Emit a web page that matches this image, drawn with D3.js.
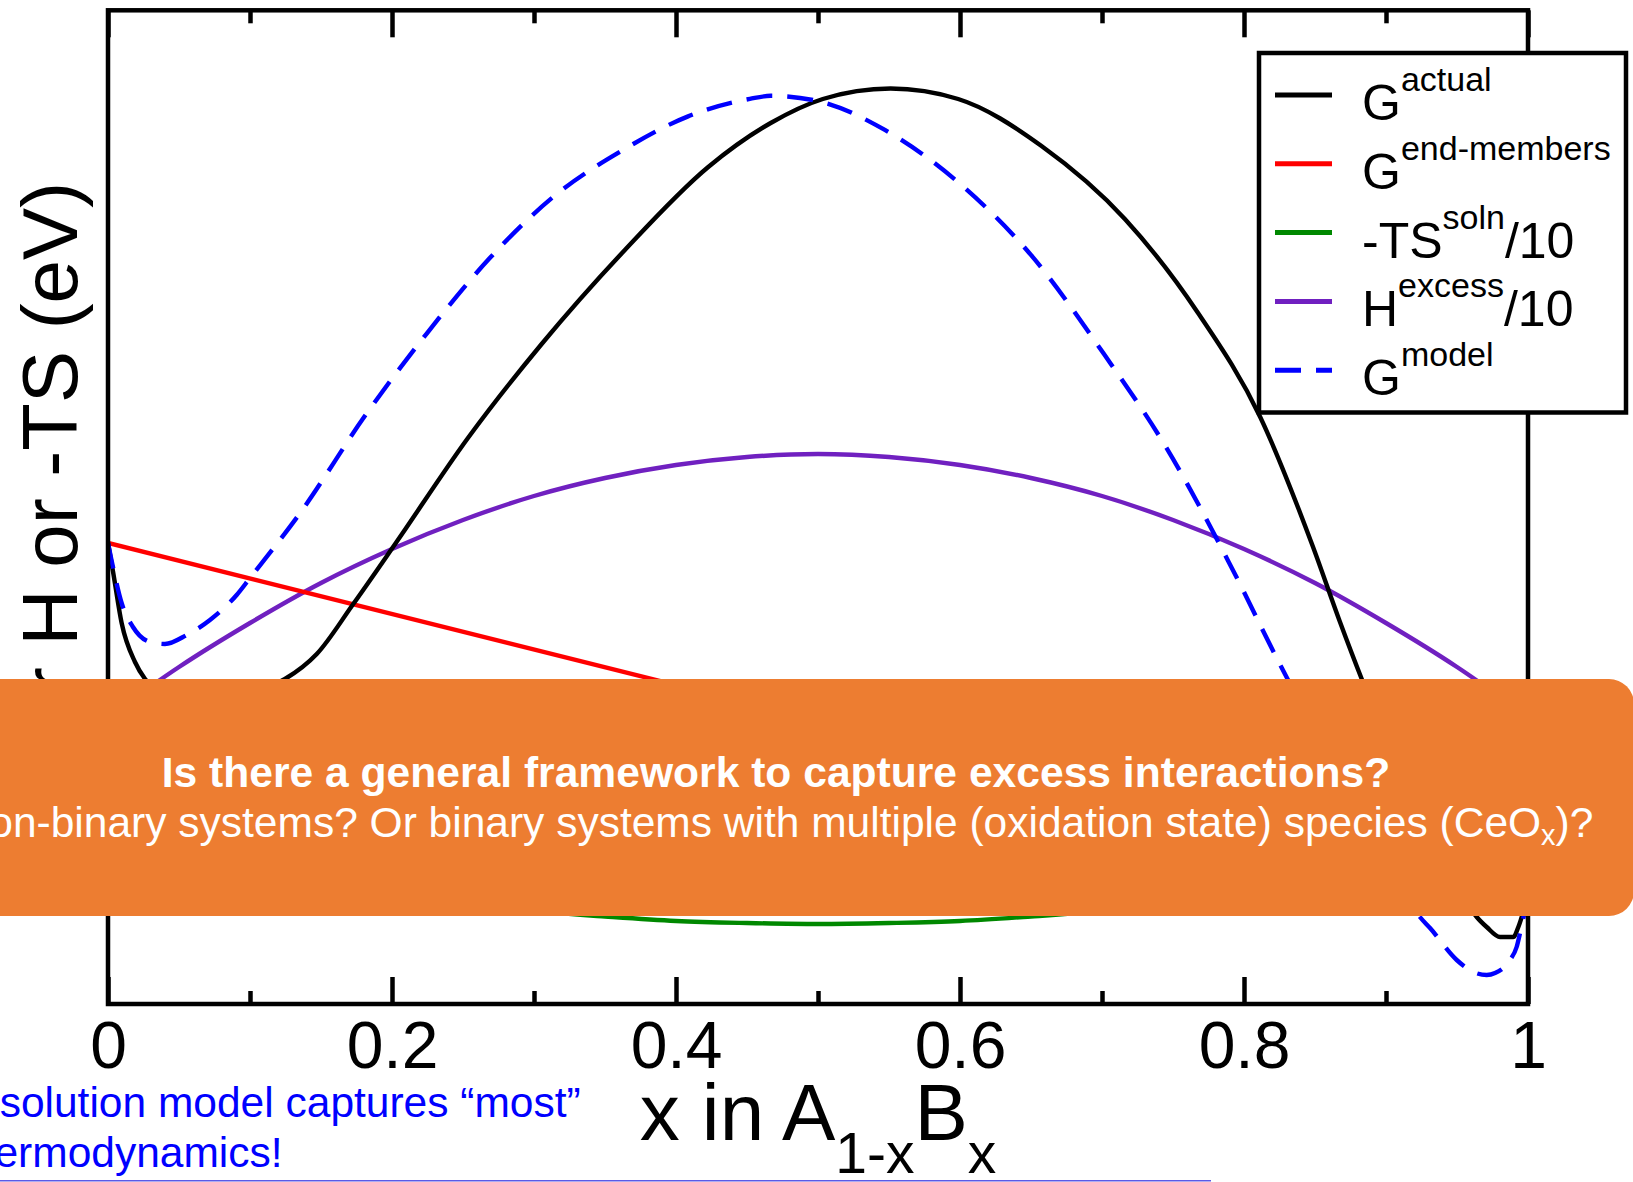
<!DOCTYPE html>
<html>
<head>
<meta charset="utf-8">
<script src="https://cdn.jsdelivr.net/npm/d3@7"></script>
<style>
  html, body { margin: 0; padding: 0; background: #fff; }
  svg { display: block; }
  text { font-family: "Liberation Sans", Arial, Helvetica, sans-serif; }
</style>
</head>
<body>
<svg id="chart" width="1633" height="1182"></svg>
<script>
// Composition x of A(1-x)B(x)
const xMajorTicks = [0, 0.2, 0.4, 0.6, 0.8, 1];
const xMinorTicks = [0.1, 0.3, 0.5, 0.7, 0.9];
const xTickLabels = ["0", "0.2", "0.4", "0.6", "0.8", "1"];

// G actual (eV)
const gActualX = [0, 0.0037, 0.0096, 0.019, 0.0261, 0.045, 0.065, 0.085, 0.105, 0.1246, 0.147, 0.1727, 0.2027,
  0.254, 0.3054, 0.364, 0.4227, 0.4667, 0.5034, 0.5511, 0.5987, 0.6574, 0.7161, 0.7674, 0.8114, 0.8481,
  0.8676, 0.8829, 0.9028, 0.9239, 0.9451, 0.9639, 0.9709, 0.9803, 0.9896, 0.9932, 0.9956, 1];
const gActualY = [0.174, 0.144, 0.094, 0.055, 0.038, 0.020, 0.013, 0.016, 0.026, 0.038, 0.063, 0.113, 0.174,
  0.280, 0.373, 0.467, 0.550, 0.594, 0.618, 0.6285, 0.618, 0.571, 0.498, 0.4045, 0.300, 0.172,
  0.095, 0.038, -0.031, -0.093, -0.153, -0.200, -0.210, -0.220, -0.220, -0.210, -0.200, -0.181];

// G of the end members (linear between pure A and pure B)
const gEndX = [0, 1];
const gEndY = [0.174, -0.181];

// -T S(solution) / 10
const tsX = [0, 0.02, 0.05, 0.1, 0.15, 0.2, 0.25, 0.3, 0.35, 0.4, 0.45, 0.5,
  0.55, 0.6, 0.65, 0.7, 0.75, 0.8, 0.85, 0.9, 0.95, 0.98, 1];
const tsY = [-0.094, -0.110, -0.126, -0.147, -0.163, -0.176, -0.186, -0.194, -0.1995, -0.204, -0.206, -0.207,
  -0.206, -0.204, -0.1995, -0.194, -0.186, -0.176, -0.163, -0.147, -0.126, -0.110, -0.094];

// H excess / 10
const hExX = [0, 0.05, 0.1, 0.15, 0.2, 0.25, 0.3, 0.35, 0.4, 0.45, 0.5,
  0.55, 0.6, 0.65, 0.7, 0.75, 0.8, 0.85, 0.9, 0.95, 1];
const hExY = [0, 0.050, 0.094, 0.134, 0.168, 0.197, 0.221, 0.239, 0.252, 0.260, 0.263,
  0.260, 0.252, 0.239, 0.221, 0.197, 0.168, 0.134, 0.094, 0.050, 0];

// G model
const gModelX = [0, 0.0035, 0.0096, 0.0176, 0.0296, 0.0401, 0.0554, 0.0718, 0.0906, 0.1, 0.1366, 0.1806,
  0.2246, 0.2687, 0.3127, 0.364, 0.4081, 0.452, 0.4667, 0.4997, 0.5474, 0.5987, 0.6501, 0.7014,
  0.7454, 0.7894, 0.8261, 0.8535, 0.8746, 0.8958, 0.9099, 0.9239, 0.931, 0.9498, 0.9615, 0.9709,
  0.9768, 0.9873, 0.992, 0.9944, 0.9967, 1];
const gModelY = [0.174, 0.150, 0.114, 0.090, 0.075, 0.073, 0.082, 0.097, 0.122, 0.139, 0.2066, 0.3004,
  0.3837, 0.4587, 0.5191, 0.5681, 0.6004, 0.6181, 0.6212, 0.616, 0.5868, 0.5347, 0.4618, 0.3629,
  0.2692, 0.1546, 0.0504, -0.023, -0.078, -0.133, -0.168, -0.200, -0.211, -0.243, -0.255, -0.258,
  -0.256, -0.243, -0.230, -0.216, -0.201, -0.181];

const yDomain = [-0.287, 0.7067];

const seriesColors = ["#000000", "#ff0000", "#008800", "#7020c0", "#0000ff"];

const svg = d3.select("#chart");
const W = 1633, H = 1182;
svg.append("rect").attr("width", W).attr("height", H).attr("fill", "#fff");

const plot = { left: 108, right: 1528, top: 10.3, bottom: 1004 };
const x = d3.scaleLinear().domain([0, 1]).range([plot.left, plot.right]);
const y = d3.scaleLinear().domain(yDomain).range([plot.bottom, plot.top]);

const series = [
  { xs: gActualX, ys: gActualY, color: seriesColors[0], dash: null },
  { xs: gEndX, ys: gEndY, color: seriesColors[1], dash: null },
  { xs: tsX, ys: tsY, color: seriesColors[2], dash: null },
  { xs: hExX, ys: hExY, color: seriesColors[3], dash: null },
  { xs: gModelX, ys: gModelY, color: seriesColors[4], dash: "26,15" }
];

const line = d3.line().x(d => x(d[0])).y(d => y(d[1])).curve(d3.curveMonotoneX);

svg.append("clipPath").attr("id", "plotclip").append("rect")
  .attr("x", plot.left).attr("y", plot.top)
  .attr("width", plot.right - plot.left).attr("height", plot.bottom - plot.top);

const curves = svg.append("g").attr("clip-path", "url(#plotclip)");
// draw the lines back to front: blue dashed model on top
[2, 3, 1, 0, 4].forEach(i => {
  const s = series[i];
  const pts = s.xs.map((v, k) => [v, s.ys[k]]);
  curves.append("path")
    .attr("d", line(pts))
    .attr("fill", "none")
    .attr("stroke", s.color)
    .attr("stroke-width", 4.4)
    .attr("stroke-linejoin", "round")
    .attr("stroke-dasharray", s.dash);
});

// Axes: ticks on top and bottom, pointing inward
function styleAxis(g) {
  g.select(".domain").remove();
  g.selectAll(".tick line").attr("stroke", "#000").attr("stroke-width", 4.5);
}
const bottomMajor = svg.append("g").attr("transform", `translate(0,${plot.bottom})`)
  .call(d3.axisBottom(x).tickValues(xMajorTicks).tickSizeInner(-27).tickSizeOuter(0)
    .tickFormat((d, i) => xTickLabels[i]));
styleAxis(bottomMajor);
bottomMajor.selectAll(".tick text")
  .attr("y", 64.3).attr("dy", null)
  .attr("fill", "#000")
  .style("font-size", "66px")
  .style("font-family", "'Liberation Sans', Arial, Helvetica, sans-serif");

const bottomMinor = svg.append("g").attr("transform", `translate(0,${plot.bottom})`)
  .call(d3.axisBottom(x).tickValues(xMinorTicks).tickSizeInner(-13).tickSizeOuter(0).tickFormat(""));
styleAxis(bottomMinor);

const topMajor = svg.append("g").attr("transform", `translate(0,${plot.top})`)
  .call(d3.axisTop(x).tickValues(xMajorTicks).tickSizeInner(-27).tickSizeOuter(0).tickFormat(""));
styleAxis(topMajor);
const topMinor = svg.append("g").attr("transform", `translate(0,${plot.top})`)
  .call(d3.axisTop(x).tickValues(xMinorTicks).tickSizeInner(-13).tickSizeOuter(0).tickFormat(""));
styleAxis(topMinor);

// Frame
svg.append("rect")
  .attr("x", plot.left).attr("y", plot.top)
  .attr("width", plot.right - plot.left).attr("height", plot.bottom - plot.top)
  .attr("fill", "none").attr("stroke", "#000").attr("stroke-width", 4.5);

// Axis titles
const xTitle = svg.append("text")
  .attr("x", (plot.left + plot.right) / 2).attr("y", 1140)
  .attr("text-anchor", "middle").attr("fill", "#000")
  .style("font-size", "80px");
xTitle.append("tspan").text("x in A");
xTitle.append("tspan").attr("dy", 33).style("font-size", "57px").text("1-x");
xTitle.append("tspan").attr("dy", -33).text("B");
xTitle.append("tspan").attr("dy", 33).style("font-size", "57px").text("x");

svg.append("text")
  .attr("transform", "translate(77,182) rotate(-90)")
  .attr("text-anchor", "end").attr("fill", "#000")
  .style("font-size", "78px")
  .text("G or H or -TS (eV)");

// Legend
const lg = svg.append("g");
lg.append("rect")
  .attr("x", 1259).attr("y", 53).attr("width", 367).attr("height", 359.5)
  .attr("fill", "#fff").attr("stroke", "#000").attr("stroke-width", 4.5);
const legendItems = [
  { pre: "G", sup: "actual", post: "" },
  { pre: "G", sup: "end-members", post: "" },
  { pre: "-TS", sup: "soln", post: "/10" },
  { pre: "H", sup: "excess", post: "/10" },
  { pre: "G", sup: "model", post: "" }
];
legendItems.forEach((it, i) => {
  const ly = 95 + i * 68.8;
  const s = series[i];
  lg.append("line")
    .attr("x1", 1275).attr("x2", 1332).attr("y1", ly).attr("y2", ly)
    .attr("stroke", s.color).attr("stroke-width", 5)
    .attr("stroke-dasharray", s.dash);
  const t = lg.append("text").attr("x", 1362).attr("y", ly + 25)
    .attr("fill", "#000").style("font-size", "50px");
  t.append("tspan").text(it.pre);
  t.append("tspan").attr("dy", -29).style("font-size", "34px").text(it.sup);
  if (it.post) t.append("tspan").attr("dy", 29).text(it.post);
});

// Callout box
const boxLeft = -82, boxRight = 1634, boxTop = 679, boxBottom = 916, r = 25;
svg.append("rect")
  .attr("x", boxLeft).attr("y", boxTop)
  .attr("width", boxRight - boxLeft).attr("height", boxBottom - boxTop)
  .attr("rx", r).attr("ry", r)
  .attr("fill", "#ED7D31");
const cx = (boxLeft + boxRight) / 2;
svg.append("text")
  .attr("x", cx).attr("y", 786.7).attr("text-anchor", "middle")
  .attr("fill", "#fff").style("font-size", "42.6px").style("font-weight", "bold")
  .text("Is there a general framework to capture excess interactions?");
const q2 = svg.append("text")
  .attr("x", cx).attr("y", 836.7).attr("text-anchor", "middle")
  .attr("fill", "#fff").style("font-size", "42.5px");
q2.append("tspan").text("Non-binary systems? Or binary systems with multiple (oxidation state) species (CeO");
q2.append("tspan").attr("dy", 8).style("font-size", "29px").text("x");
q2.append("tspan").attr("dy", -8).text(")?");

// Note in the lower left
svg.append("text")
  .attr("x", -161).attr("y", 1117.3).attr("fill", "#0000ff")
  .style("font-size", "42.5px")
  .text("Regular solution model captures \u201cmost\u201d");
svg.append("text")
  .attr("x", -41).attr("y", 1167.3).attr("fill", "#0000ff")
  .style("font-size", "42.5px")
  .text("thermodynamics!");
svg.append("line")
  .attr("x1", 0).attr("x2", 1211).attr("y1", 1180.7).attr("y2", 1180.7)
  .attr("stroke", "#5a5ae6").attr("stroke-width", 1.5);
</script>
</body>
</html>
